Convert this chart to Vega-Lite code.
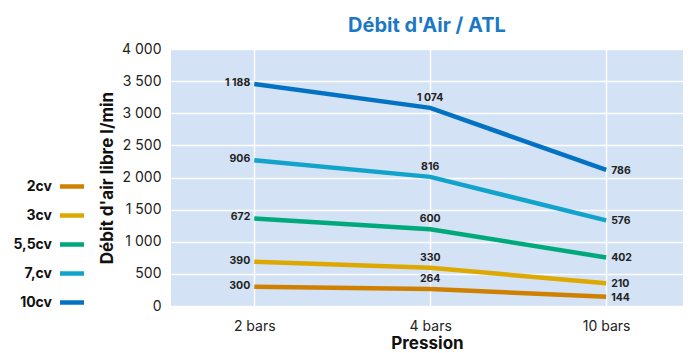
{
  "$schema": "https://vega.github.io/schema/vega-lite/v6.json",
  "width": 512,
  "height": 257,
  "autosize": {"type": "none"},
  "padding": {"left": 171, "top": 49, "right": 11, "bottom": 47},
  "background": "white",
  "config": {
    "locale": {"number": {"decimal": ",", "thousands": " ", "grouping": [3], "currency": ["", " €"]}},
    "font": "Inter",
    "view": {"fill": "#D3E2F4", "stroke": null},
    "axis": {
      "domain": false,
      "ticks": false,
      "gridColor": "#ffffff",
      "gridWidth": 1.5,
      "gridOpacity": 1,
      "labelColor": "#222222",
      "labelFontSize": 14,
      "titleColor": "#111111",
      "titleFontSize": 17,
      "titleFontWeight": "bold"
    }
  },
  "title": {
    "text": "Débit d'Air / ATL",
    "color": "#1A78C6",
    "fontSize": 20,
    "fontWeight": "bold",
    "anchor": "middle",
    "offset": 6
  },
  "data": {
    "values": [
      {"pression": "2 bars", "serie": "2cv", "rang": 1, "debit": 300},
      {"pression": "2 bars", "serie": "3cv", "rang": 2, "debit": 390},
      {"pression": "2 bars", "serie": "5,5cv", "rang": 3, "debit": 672},
      {"pression": "2 bars", "serie": "7,cv", "rang": 4, "debit": 906},
      {"pression": "2 bars", "serie": "10cv", "rang": 5, "debit": 1188},
      {"pression": "4 bars", "serie": "2cv", "rang": 1, "debit": 264},
      {"pression": "4 bars", "serie": "3cv", "rang": 2, "debit": 330},
      {"pression": "4 bars", "serie": "5,5cv", "rang": 3, "debit": 600},
      {"pression": "4 bars", "serie": "7,cv", "rang": 4, "debit": 816},
      {"pression": "4 bars", "serie": "10cv", "rang": 5, "debit": 1074},
      {"pression": "10 bars", "serie": "2cv", "rang": 1, "debit": 144},
      {"pression": "10 bars", "serie": "3cv", "rang": 2, "debit": 210},
      {"pression": "10 bars", "serie": "5,5cv", "rang": 3, "debit": 402},
      {"pression": "10 bars", "serie": "7,cv", "rang": 4, "debit": 576},
      {"pression": "10 bars", "serie": "10cv", "rang": 5, "debit": 786}
    ]
  },
  "transform": [
    {
      "window": [{"op": "sum", "field": "debit", "as": "cumul"}],
      "groupby": ["pression"],
      "sort": [{"field": "rang"}],
      "frame": [null, 0]
    }
  ],
  "encoding": {
    "x": {
      "field": "pression",
      "type": "ordinal",
      "scale": {"type": "point", "domain": ["2 bars", "4 bars", "10 bars"], "padding": 0.455, "align": 0.52},
      "axis": {"labelAngle": 0, "title": "Pression", "grid": true, "labelPadding": 13, "titlePadding": 2}
    },
    "y": {
      "field": "cumul",
      "type": "quantitative",
      "scale": {"domain": [0, 4000], "nice": false},
      "axis": {
        "values": [0, 500, 1000, 1500, 2000, 2500, 3000, 3500, 4000],
        "format": ",d",
        "title": "Débit d'air libre l/min",
        "labelPadding": 10,
        "titleX": -55
      }
    }
  },
  "layer": [
    {
      "mark": {"type": "line", "strokeWidth": 4.5, "strokeCap": "butt"},
      "encoding": {
        "color": {
          "field": "serie",
          "type": "nominal",
          "scale": {
            "domain": ["2cv", "3cv", "5,5cv", "7,cv", "10cv"],
            "range": ["#D08000", "#DDA900", "#00A97B", "#12A3CB", "#0472C2"]
          },
          "legend": {
            "orient": "none",
            "legendX": -113.5,
            "legendY": 123,
            "title": null,
            "symbolType": "stroke",
            "symbolStrokeWidth": 4.5,
            "symbolSize": 576,
            "labelAlign": "right",
            "labelOffset": -34.5,
            "labelFontSize": 14,
            "labelFontWeight": "bold",
            "labelColor": "#111111",
            "rowPadding": 5
          }
        }
      }
    },
    {
      "transform": [{"filter": "datum.pression === '2 bars'"}],
      "mark": {"type": "text", "align": "right", "baseline": "middle", "dx": -4, "dy": -1, "fontSize": 10.5, "fontWeight": "bold", "color": "#222222"},
      "encoding": {"text": {"field": "debit", "type": "quantitative", "format": ",d"}}
    },
    {
      "transform": [{"filter": "datum.pression === '4 bars'"}],
      "mark": {"type": "text", "align": "center", "baseline": "alphabetic", "dy": -7, "fontSize": 10.5, "fontWeight": "bold", "color": "#222222"},
      "encoding": {"text": {"field": "debit", "type": "quantitative", "format": ",d"}}
    },
    {
      "transform": [{"filter": "datum.pression === '10 bars'"}],
      "mark": {"type": "text", "align": "left", "baseline": "middle", "dx": 5, "dy": 1, "fontSize": 10.5, "fontWeight": "bold", "color": "#222222"},
      "encoding": {"text": {"field": "debit", "type": "quantitative", "format": ",d"}}
    }
  ]
}
